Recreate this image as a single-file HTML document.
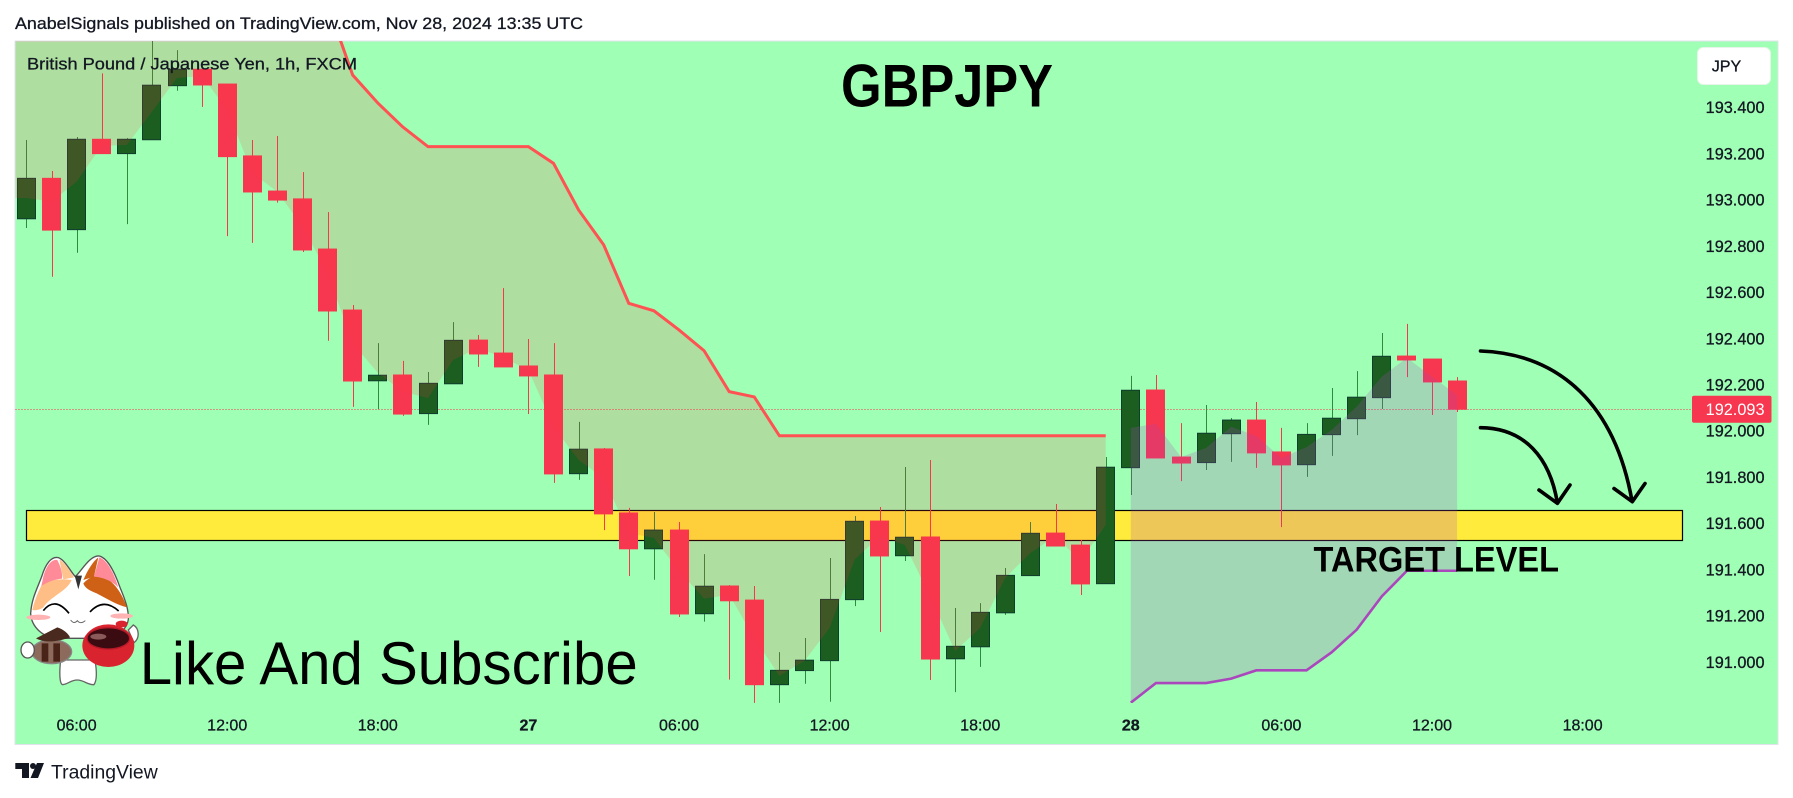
<!DOCTYPE html>
<html>
<head>
<meta charset="utf-8">
<title>GBPJPY chart</title>
<style>
html,body{margin:0;padding:0;background:#fff;width:1793px;height:798px;overflow:hidden}
svg{display:block}
text{font-family:"Liberation Sans",sans-serif}
.hint{stroke:#131722;stroke-width:.3px}
</style>
</head>
<body>
<svg id="chart" xmlns="http://www.w3.org/2000/svg" width="1793" height="798" viewBox="0 0 1793 798">
  <defs>
    <clipPath id="plot-clip"><rect x="15.5" y="41" width="1762" height="662"/></clipPath>
  </defs>
  <text class="hint" x="15" y="29" font-size="17" fill="#131722" textLength="568" lengthAdjust="spacingAndGlyphs">AnabelSignals published on TradingView.com, Nov 28, 2024 13:35 UTC</text>
  <rect x="15" y="41" width="1763" height="703.5" fill="#9fffb4" stroke="#e0e3eb" stroke-width="1"/>
  <rect x="26.5" y="510.5" width="1656" height="30" fill="#ffeb3b" stroke="#000" stroke-width="1.2"/>
  <g id="candles" clip-path="url(#plot-clip)"></g>
  <g id="overlays" clip-path="url(#plot-clip)"></g>
  <g id="axes"></g>

  <text class="hint" x="27" y="69.5" font-size="17" fill="#131722" textLength="330" lengthAdjust="spacingAndGlyphs">British Pound / Japanese Yen, 1h, FXCM</text>
  <text x="841" y="106.7" font-size="60" font-weight="bold" fill="#000" textLength="212" lengthAdjust="spacingAndGlyphs">GBPJPY</text>
  <text x="1313.5" y="571.5" font-size="35" font-weight="bold" fill="#000" textLength="245.5" lengthAdjust="spacingAndGlyphs">TARGET LEVEL</text>
  <text x="139.7" y="684" font-size="60" fill="#000" textLength="498" lengthAdjust="spacingAndGlyphs">Like And Subscribe</text>

  <g fill="none" stroke="#000" stroke-width="3.6" stroke-linecap="round" stroke-linejoin="round">
    <path d="M1480.5,351 C1560,354 1615,405 1632,501"/>
    <path d="M1614,488.5 L1632.3,501.7 L1645,483.5"/>
    <path d="M1480.5,427.7 C1525,428 1550,458 1557.4,503"/>
    <path d="M1539,490 L1557.4,503.3 L1570,485"/>
  </g>

  <g transform="translate(0,530) scale(0.3333)">
    <path d="M182,390 C178,425 178,462 188,464 C205,462 212,450 232,450 C252,450 262,465 282,464 C292,450 290,420 285,390 Z" fill="#fff" stroke="#666" stroke-width="4"/>
    <path d="M92,250 C95,205 112,175 125,140 C137,100 155,78 175,83 C195,90 212,125 226,140 C245,122 270,75 298,78 C325,85 345,130 360,172 C378,215 386,240 385,268 C380,305 340,325 300,325 L170,325 C130,322 94,292 92,250 Z" fill="#fff" stroke="#555" stroke-width="4"/>
    <path d="M97,240 C105,205 118,180 125,165 C150,150 175,145 215,150 C200,185 150,200 130,232 C118,240 105,242 97,240 Z" fill="#ffbe85"/>
    <path d="M250,160 C270,140 285,135 300,135 C335,150 360,175 381,232 C350,225 320,205 290,190 C270,182 255,175 250,160 Z" fill="#cf6116"/>
    <path d="M128,150 C136,108 155,86 172,90 C182,110 188,128 186,146 C165,148 145,155 124,168 Z" fill="#ff8a98"/>
    <path d="M178,88 C195,98 212,125 222,142 L190,148 Z" fill="#ffc48e"/>
    <path d="M250,150 C262,122 278,95 295,82 L282,140 Z" fill="#cf6116"/>
    <path d="M282,140 L298,82 C322,90 342,130 355,172 C335,152 308,142 282,140 Z" fill="#ff8a98"/>
    <path d="M224,137 L246,137 L235,178 Z" fill="#333"/>
    <path d="M130,242 Q165,198 207,250" fill="none" stroke="#000" stroke-width="5"/>
    <path d="M270,246 Q310,202 356,243" fill="none" stroke="#000" stroke-width="5"/>
    <ellipse cx="115" cy="262" rx="36" ry="8" fill="#ffb3b3"/>
    <ellipse cx="365" cy="258" rx="34" ry="8" fill="#ffb3b3"/>
    <path d="M212,270 Q222,284 232,272 Q242,284 256,272" fill="none" stroke="#666" stroke-width="3"/>
    <ellipse cx="155" cy="365" rx="60" ry="36" fill="#8c6a5c" stroke="#888" stroke-width="4"/>
    <path d="M125,340 H145 V395 H125 Z M160,340 H180 V395 H160 Z" fill="#4a2318"/>
    <ellipse cx="83" cy="360" rx="20" ry="24" fill="#fff" stroke="#555" stroke-width="4"/>
    <path d="M108,325 L172,292 C195,300 205,312 210,322 C175,335 135,340 108,325 Z" fill="#4a2a1e"/>
    <path d="M400,285 C418,295 420,325 402,338 L385,300 Z" fill="#fff" stroke="#666" stroke-width="4"/>
    <ellipse cx="325" cy="347" rx="78" ry="64" fill="#d9232f"/>
    <ellipse cx="365" cy="282" rx="18" ry="10" fill="#d9232f"/>
    <ellipse cx="325" cy="325" rx="64" ry="32" fill="#3a0b10" stroke="#b51a28" stroke-width="4"/>
    <ellipse cx="295" cy="320" rx="24" ry="9" fill="#8a5a5a"/>
  </g>

  <g>
    <path d="M15.3,763 H29 V778 H22 V769 H15.3 Z" fill="#131722"/>
    <circle cx="33" cy="766" r="3" fill="#131722"/>
    <path d="M37,763 H44 L38,778 H30.5 Z" fill="#131722"/>
    <text x="51" y="778.5" font-size="19" fill="#131722" textLength="106.7" lengthAdjust="spacingAndGlyphs">TradingView</text>
  </g>

  <rect x="1697.5" y="47.5" width="73" height="37" rx="6" fill="#fff" stroke="#e8f4ea"/>
  <text class="hint" x="1711.7" y="71.7" font-size="16" fill="#131722" textLength="29.5" lengthAdjust="spacingAndGlyphs">JPY</text>
</svg>

<script>
// Hourly OHLC series, 25 Nov 04:00 onward (JPY per GBP)
const opens = [192.917,193.092,192.870,193.261,193.199,193.259,193.493,193.564,193.500,193.189,193.037,193.003,192.786,192.522,192.216,192.241,192.074,192.203,192.392,192.336,192.280,192.241,191.814,191.921,191.644,191.489,191.570,191.208,191.328,191.267,190.901,190.962,191.005,191.269,191.609,191.459,191.540,191.013,191.065,191.212,191.373,191.557,191.505,191.338,191.840,192.176,191.886,191.862,191.987,192.046,191.908,191.853,191.983,192.052,192.143,192.323,192.310,192.215];
const highs = [193.258,193.124,193.271,193.546,193.266,193.700,193.647,193.564,193.500,193.258,193.275,193.119,192.946,192.544,192.379,192.302,192.254,192.470,192.414,192.617,192.397,192.379,192.038,191.925,191.666,191.648,191.605,191.466,191.332,191.328,191.042,191.103,191.449,191.631,191.670,191.843,191.873,191.233,191.254,191.406,191.605,191.683,191.527,191.886,192.237,192.241,192.033,192.111,192.055,192.124,192.012,192.033,192.185,192.258,192.423,192.462,192.310,192.232];
const lows = [192.877,192.666,192.770,193.199,192.894,193.259,193.471,193.401,192.842,192.813,192.987,192.773,192.389,192.103,192.093,192.064,192.025,192.203,192.276,192.276,192.072,191.774,191.787,191.570,191.371,191.355,191.194,191.174,190.923,190.822,190.822,190.905,190.827,191.241,191.129,191.436,190.921,190.869,190.978,191.203,191.373,191.501,191.289,191.338,191.722,191.882,191.782,191.830,191.865,191.839,191.583,191.800,191.891,191.981,192.094,192.232,192.068,192.081];
const closes = [193.092,192.868,193.261,193.199,193.261,193.495,193.564,193.496,193.186,193.033,192.998,192.782,192.518,192.215,192.240,192.072,192.205,192.391,192.332,192.276,192.237,191.813,191.920,191.640,191.489,191.570,191.207,191.327,191.264,190.901,190.963,191.007,191.270,191.608,191.458,191.539,191.012,191.067,191.214,191.374,191.556,191.501,191.337,191.842,192.175,191.882,191.860,191.989,192.046,191.904,191.852,191.984,192.054,192.145,192.322,192.306,192.211,192.093];
// Indicator mid line (one value per candle)
const basisLine = [193.007,192.991,193.077,193.233,193.236,193.380,193.526,193.535,193.388,193.115,193.034,192.883,192.682,192.379,192.250,192.169,192.141,192.306,192.358,192.315,192.263,192.017,191.873,191.795,191.557,191.536,191.393,191.273,191.290,191.103,190.939,191.004,191.146,191.442,191.544,191.505,191.285,191.047,191.146,191.363,191.471,191.544,191.436,191.592,192.012,192.030,191.886,191.925,192.017,191.977,191.882,191.929,192.003,192.104,192.234,192.315,192.234,192.154];
// Upper (red) stop line for candles 0..43
const upperLine = [194.000,194.000,194.000,194.000,194.000,194.000,194.000,194.000,194.000,194.000,194.000,194.000,193.846,193.539,193.418,193.314,193.229,193.229,193.229,193.229,193.229,193.157,192.955,192.804,192.551,192.519,192.436,192.346,192.169,192.146,191.978,191.978,191.978,191.978,191.978,191.978,191.978,191.978,191.978,191.978,191.978,191.978,191.978,191.978];
// Lower (purple) stop line for candles 44..57
const lowerLine = [190.823,190.908,190.908,190.908,190.927,190.963,190.963,190.963,191.041,191.139,191.283,191.394,191.394,191.394];
const lowerLineStart = 44;
const lastPrice = 192.093;
const priceTicks = [193.4,193.2,193.0,192.8,192.6,192.4,192.2,192.0,191.8,191.6,191.4,191.2,191.0];
const timeTickLabels = ['06:00','12:00','18:00','27','06:00','12:00','18:00','28','06:00','12:00','18:00'];
const timeTickCandles = [2,8,14,20,26,32,38,44,50,56,62];
const boldTimeTicks = ['27','28'];

const NS = 'http://www.w3.org/2000/svg';
const UP = '#1b5e20', UP_EDGE = '#0f3d2e', UP_WICK = '#2f8a3d', DOWN = '#f7374f';
const xOf = i => 26.4 + 25.1 * i;
const yOf = p => 430.7 + (192 - p) * 231.1;
const candleW = 19;
const make = (tag, attrs, parent) => {
  const el = document.createElementNS(NS, tag);
  for (const k in attrs) el.setAttribute(k, attrs[k]);
  parent.appendChild(el);
  return el;
};
const candlesG = document.getElementById('candles');
const overlaysG = document.getElementById('overlays');
const axesG = document.getElementById('axes');

// price line
const priceLine = make('line', {x1: 15.5, x2: 1692, y1: Math.round(yOf(lastPrice)) + 0.5, y2: Math.round(yOf(lastPrice)) + 0.5, stroke: DOWN, 'stroke-width': 1, 'stroke-dasharray': '1 2'}, candlesG);



// candles
opens.forEach((o, i) => {
  const c = closes[i], up = c >= o, cx = xOf(i);
  const wx = Math.round(cx) + 0.5;
  const wick = make('line', {x1: wx, x2: wx, y1: yOf(highs[i]), y2: yOf(lows[i]), stroke: up ? UP_WICK : DOWN, 'stroke-width': 1}, candlesG);
  
  
  const top = yOf(Math.max(o, c)), bot = yOf(Math.min(o, c));
  const body = make('rect', {x: Math.round(cx - candleW / 2) + 0.5, y: top, width: candleW - 1, height: Math.max(1, bot - top), fill: up ? UP : DOWN, stroke: up ? UP_EDGE : DOWN, 'stroke-width': 1}, candlesG);
  
  
});

// red shaded region: upper line to mid line
const redPts = [];
redPts.push('15,' + yOf(upperLine[0]));
upperLine.forEach((p, i) => redPts.push(xOf(i) + ',' + yOf(p)));
for (let i = upperLine.length - 1; i >= 0; i--) redPts.push(xOf(i) + ',' + yOf(basisLine[i]));
redPts.push('15,' + yOf(basisLine[0]));
const redFill = make('polygon', {points: redPts.join(' '), fill: 'rgb(255,51,65)', 'fill-opacity': 0.157}, overlaysG);



// purple shaded region: mid line to lower line
const purplePts = [];
lowerLine.forEach((p, k) => purplePts.push(xOf(lowerLineStart + k) + ',' + yOf(basisLine[lowerLineStart + k])));
for (let k = lowerLine.length - 1; k >= 0; k--) purplePts.push(xOf(lowerLineStart + k) + ',' + yOf(lowerLine[k]));
const purpleFill = make('polygon', {points: purplePts.join(' '), fill: 'rgb(171,71,188)', 'fill-opacity': 0.22}, overlaysG);



// lines
const redLine = make('polyline', {points: upperLine.map((p, i) => xOf(i) + ',' + yOf(p)).join(' '), fill: 'none', stroke: '#ff5252', 'stroke-width': 3}, overlaysG);


const purpleLine = make('polyline', {points: lowerLine.map((p, k) => xOf(lowerLineStart + k) + ',' + yOf(p)).join(' '), fill: 'none', stroke: '#ab47bc', 'stroke-width': 2.6}, overlaysG);



// price axis
priceTicks.forEach(p => {
  const t = make('text', {x: 1764.5, y: yOf(p) + 6, 'font-size': 16.3, fill: '#131722', 'text-anchor': 'end', class: 'hint'}, axesG);
  
  
  t.textContent = p.toFixed(3);
});
const priceTag = make('rect', {x: 1692, y: yOf(lastPrice) - 13.5, width: 79.5, height: 27, rx: 2, fill: DOWN}, axesG);


const priceTagText = make('text', {x: 1764.5, y: yOf(lastPrice) + 6, 'font-size': 16.3, fill: '#fff', 'text-anchor': 'end'}, axesG);


priceTagText.textContent = lastPrice.toFixed(3);

// time axis
timeTickLabels.forEach((label, k) => {
  const t = make('text', {x: xOf(timeTickCandles[k]), y: 730.5, 'font-size': 16, fill: '#131722', 'text-anchor': 'middle', class: 'hint', 'font-weight': boldTimeTicks.includes(label) ? 'bold' : 'normal'}, axesG);
  
  
  t.textContent = label;
});
</script>
</body>
</html>
